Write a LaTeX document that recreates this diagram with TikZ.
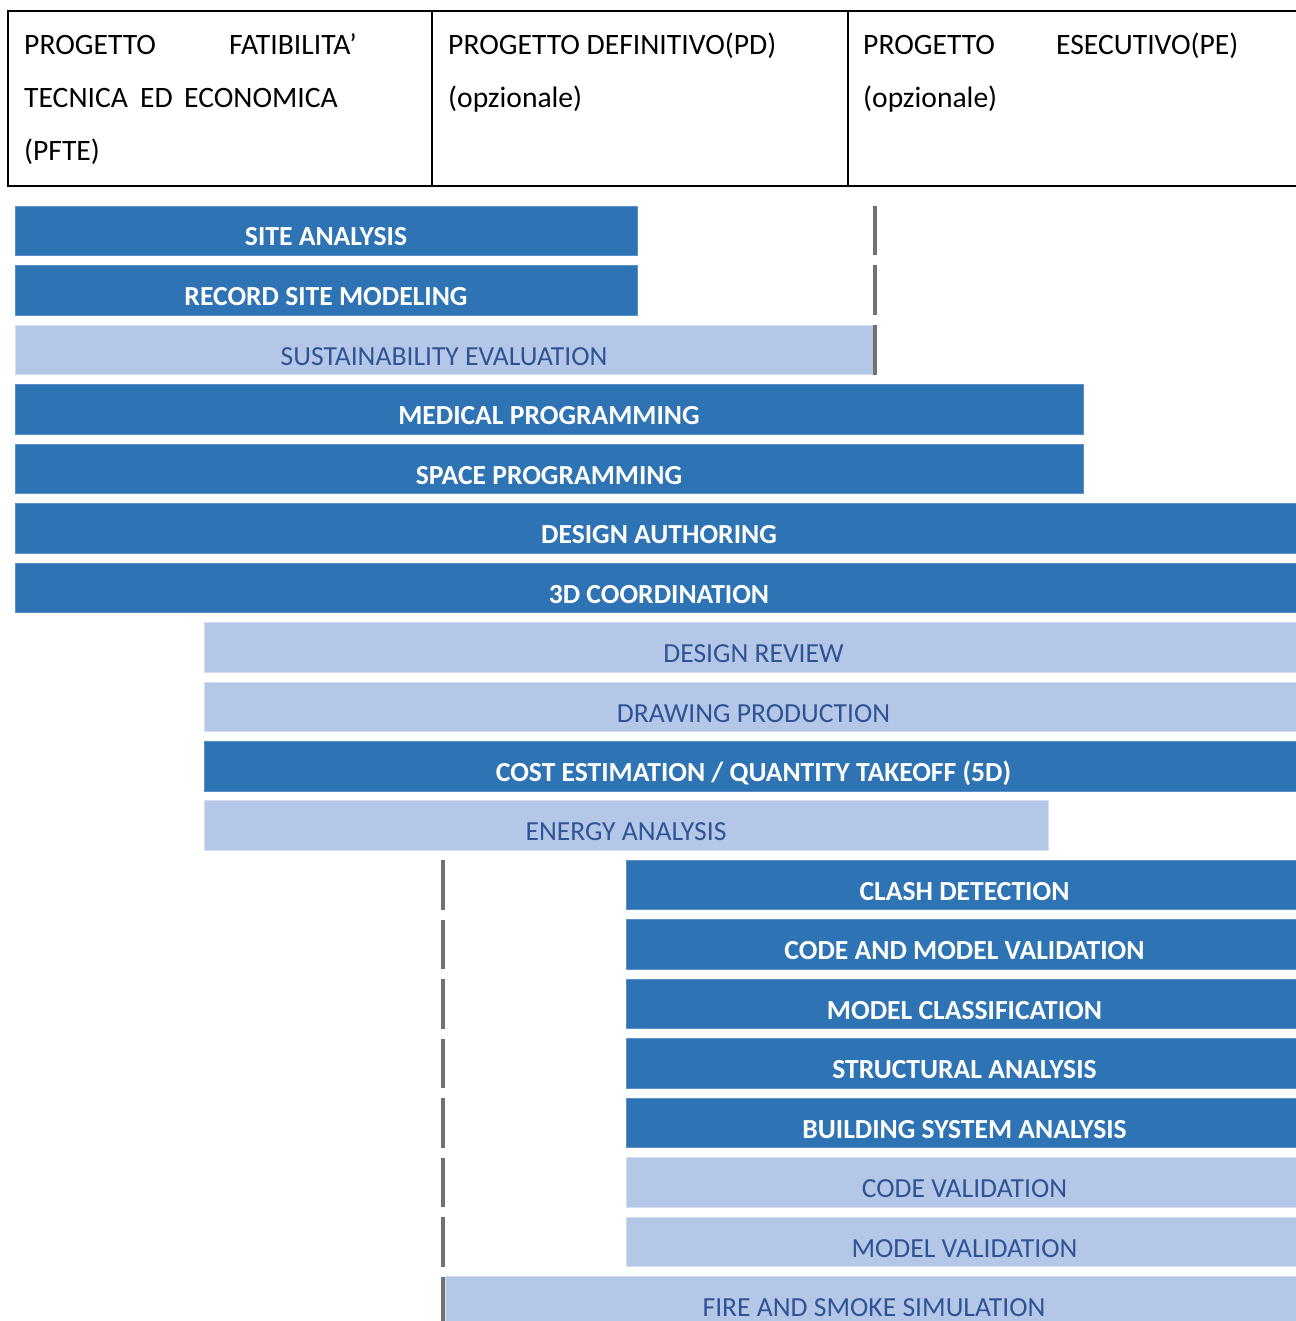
\documentclass[tikz,border=0pt]{standalone}
\usepackage{fontspec}
\setmainfont{Carlito}
\definecolor{barDark}{HTML}{2E74B5}
\definecolor{barLight}{HTML}{B4C7E7}
\definecolor{barEdge}{HTML}{D3DDF1}
\definecolor{darkEdge}{HTML}{5B8FC7}
\definecolor{lightText}{HTML}{2F5496}
\definecolor{phaseLine}{HTML}{767171}
\tikzset{
  hdr/.style={font=\fontsize{29.6}{35}\selectfont, anchor=base west, inner sep=0pt, text=black},
  gbox/.style={anchor=north west, inner sep=0pt, outer sep=0pt, minimum height=49.5pt},
  darkbar/.style={gbox, fill=barDark, draw=darkEdge, line width=0.8pt},
  lightbar/.style={gbox, fill=barLight, draw=barEdge, line width=1pt},
  darktext/.style={font=\fontsize{27.6}{32}\selectfont\bfseries, text=white, anchor=base, inner sep=0pt},
  lighttext/.style={font=\fontsize{27.6}{32}\selectfont, text=lightText, anchor=base, inner sep=0pt},
  phase/.style={fill=phaseLine, draw=none},
}
% #1 name, #2 x left, #3 x right, #4 y top, #5 bar style, #6 text style, #7 text
\newcommand\gbar[7]{%
  \node[#5, minimum width={(#3-#2)*1pt}] (#1) at (#2,#4) {};
  \node[#6] (t#1) at ([yshift=9.5pt]#1.south) {#7};
}
\begin{document}
\begin{tikzpicture}[x=1pt,y=-1pt]
\useasboundingbox (0,0) rectangle (1295,1321);
\fill[white] (0,0) rectangle (1295,1321);
% header table
\draw[line width=2pt] (1310,11) -- (8,11) -- (8,186) -- (1310,186);
\draw[line width=2pt] (432,11) -- (432,186);
\draw[line width=2pt] (847.5,11) -- (847.5,186);
\node[hdr] (h1a) at (24,55) {PROGETTO};
\node[hdr] (h1b) at (229,55) {FATIBILITA’};
\node[hdr] (h1c) at (24,108) {TECNICA};
\node[hdr] (h1d) at (140,108) {ED};
\node[hdr] (h1e) at (184,108) {ECONOMICA};
\node[hdr] (h1f) at (24,161) {(PFTE)};
\node[hdr] (h2a) at (448,55) {PROGETTO DEFINITIVO(PD)};
\node[hdr] (h2b) at (448,108) {(opzionale)};
\node[hdr] (h3a) at (863,55) {PROGETTO};
\node[hdr] (h3b) at (1056,55) {ESECUTIVO(PE)};
\node[hdr] (h3c) at (863,108) {(opzionale)};
% bars
\gbar{b1}{15}{637}{206}{darkbar}{darktext}{SITE ANALYSIS}
\gbar{b2}{15}{637}{265.5}{darkbar}{darktext}{RECORD SITE MODELING}
\gbar{b3}{15}{873}{325}{lightbar}{lighttext}{SUSTAINABILITY EVALUATION}
\gbar{b4}{15}{1083}{384.5}{darkbar}{darktext}{MEDICAL PROGRAMMING}
\gbar{b5}{15}{1083}{444}{darkbar}{darktext}{SPACE PROGRAMMING}
\gbar{b6}{15}{1303}{503.5}{darkbar}{darktext}{DESIGN AUTHORING}
\gbar{b7}{15}{1303}{563}{darkbar}{darktext}{3D COORDINATION}
\gbar{b8}{204}{1303}{622.5}{lightbar}{lighttext}{DESIGN REVIEW}
\gbar{b9}{204}{1303}{682}{lightbar}{lighttext}{DRAWING PRODUCTION}
\gbar{b10}{204}{1303}{741.5}{darkbar}{darktext}{COST ESTIMATION / QUANTITY TAKEOFF (5D)}
\gbar{b11}{204}{1048}{800.5}{lightbar}{lighttext}{ENERGY ANALYSIS}
\gbar{b12}{626}{1303}{860}{darkbar}{darktext}{CLASH DETECTION}
\gbar{b13}{626}{1303}{919.5}{darkbar}{darktext}{CODE AND MODEL VALIDATION}
\gbar{b14}{626}{1303}{979}{darkbar}{darktext}{MODEL CLASSIFICATION}
\gbar{b15}{626}{1303}{1038.5}{darkbar}{darktext}{STRUCTURAL ANALYSIS}
\gbar{b16}{626}{1303}{1098}{darkbar}{darktext}{BUILDING SYSTEM ANALYSIS}
\gbar{b17}{626}{1303}{1157.5}{lightbar}{lighttext}{CODE VALIDATION}
\gbar{b18}{626}{1303}{1217}{lightbar}{lighttext}{MODEL VALIDATION}
\gbar{b19}{445}{1303}{1276.5}{lightbar}{lighttext}{FIRE AND SMOKE SIMULATION}
% phase marker lines
\foreach \yt in {206,265.5,325}{
  \fill[phase] (873,\yt) rectangle (877,\yt+49.5);
}
\foreach \yt in {860,919.5,979,1038.5,1098,1157.5,1217,1276.5}{
  \fill[phase] (441,\yt) rectangle (445,\yt+49.5);
}
\end{tikzpicture}
\end{document}
